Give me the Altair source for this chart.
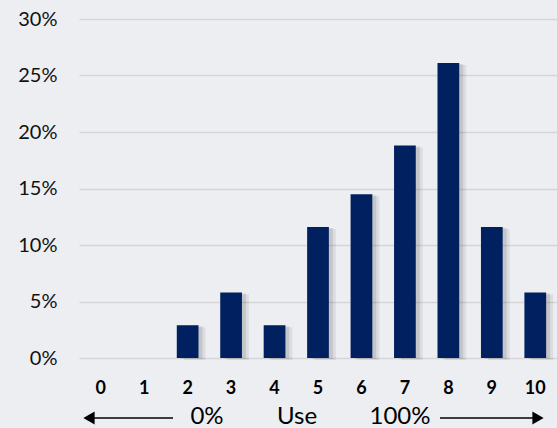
import altair as alt
import pandas as pd

categories = ["0", "1", "2", "3", "4", "5", "6", "7", "8", "9", "10"]
shares = [0.0, 0.0, 0.029, 0.058, 0.029, 0.116, 0.145, 0.188, 0.261, 0.116, 0.058]
y_ticks = [0, 0.05, 0.10, 0.15, 0.20, 0.25, 0.30]

df = pd.DataFrame({"cat": categories, "share": shares})

FONT = "Lato"
W, H = 478, 339

xenc = alt.X("cat:O", sort=categories,
             scale=alt.Scale(paddingInner=0.5, paddingOuter=0.25),
             axis=alt.Axis(title=None, labelAngle=0, labelFont=FONT, labelFontSize=18,
                           labelFontWeight="bold", labelColor="#000000", labelPadding=21,
                           ticks=False, domain=False, grid=False))
yenc = alt.Y("share:Q", scale=alt.Scale(domain=[0, 0.30], nice=False),
             axis=alt.Axis(title=None, values=y_ticks, format=".0%", labelFont=FONT,
                           labelFontSize=20, labelColor="#111111", labelPadding=22,
                           ticks=False, domain=False, grid=True, gridColor="#d6d6d8",
                           gridWidth=1.5))

base = alt.Chart(df)
shadow1 = base.mark_bar(color="#000000", opacity=0.10, xOffset=4, yOffset=1).encode(x=xenc, y=yenc)
shadow2 = base.mark_bar(color="#000000", opacity=0.07, xOffset=7, yOffset=2).encode(x=xenc, y=yenc)
bars = base.mark_bar(color="#00205f").encode(x=xenc, y=yenc)

ann = pd.DataFrame({"label": ["0%", "Use", "100%"], "px": [128, 218, 321]})
texts = alt.Chart(ann).mark_text(font=FONT, fontSize=24, color="#000000", baseline="alphabetic").encode(
    x=alt.X("px:Q", scale=None), y=alt.value(405), text="label:N")

lines = pd.DataFrame({"x1": [10, 361], "x2": [94, 456]})
rules = alt.Chart(lines).mark_rule(color="#000000", strokeWidth=1.5).encode(
    x=alt.X("x1:Q", scale=None), x2="x2:Q", y=alt.value(399))

heads = pd.DataFrame({"px": [10, 459], "shape": ["triangle-left", "triangle-right"]})
arrows = alt.Chart(heads).mark_point(filled=True, color="#000000", opacity=1, size=170).encode(
    x=alt.X("px:Q", scale=None), y=alt.value(399),
    shape=alt.Shape("shape:N", scale=None))

chart = alt.layer(shadow2, shadow1, bars, texts, rules, arrows).properties(
    width=W, height=H,
    background="#eceef2",
    padding={"left": 79, "top": 19, "right": 0, "bottom": 70},
    autosize=alt.AutoSizeParams(type="none"),
).configure_view(stroke=None)

chart.save("out.html", embed_options={"renderer": "svg", "actions": False})
